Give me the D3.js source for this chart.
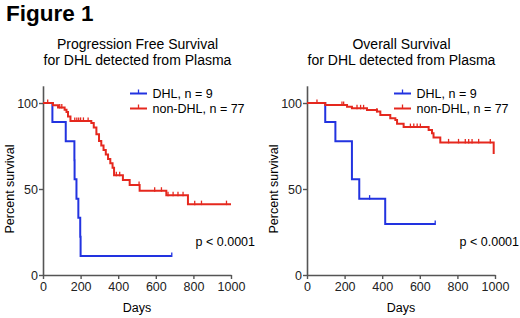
<!DOCTYPE html>
<html>
<head>
<meta charset="utf-8">
<script src="https://cdn.jsdelivr.net/npm/d3@7"></script>
<style>
  body { margin: 0; background: #fff; }
  svg { display: block; font-family: "Liberation Sans", Arial, Helvetica, sans-serif; }
</style>
</head>
<body>
<svg id="chart" width="520" height="318"></svg>
<script>
// Kaplan-Meier step data (days, percent survival)
const pfsDhlDays = [0, 50, 121, 167, 168, 178, 188, 198, 200];
const pfsDhlSurv = [100, 88.9, 77.8, 66.7, 55.6, 44.4, 33.3, 22.2, 11.1];
const pfsDhlCensor = [685];
const pfsDhlEnd = 685;

const pfsNonDays = [0, 53, 80, 115, 125, 133, 146, 257, 270, 284, 298, 310, 322, 334, 346, 358, 370, 378, 425, 461, 514, 656, 771];
const pfsNonSurv = [100, 98.7, 97.4, 96.1, 94.8, 92.2, 89.6, 88.3, 85.7, 81.8, 77.9, 75.3, 72.7, 70.1, 67.5, 64.9, 62.3, 58.0, 55.2, 52.3, 49.0, 46.3, 41.2];
const pfsNonCensor = [25, 89, 100, 169, 180, 190, 200, 215, 240, 390, 408, 511, 594, 630, 665, 692, 718, 745, 807, 843, 976];
const pfsNonEnd = 1000;

const osDhlDays = [0, 97, 151, 239, 278, 416];
const osDhlSurv = [100, 88.9, 77.8, 55.6, 44.4, 29.6];
const osDhlCensor = [333, 682];
const osDhlEnd = 682;

const osNonDays = [0, 97, 213, 239, 319, 372, 390, 443, 470, 479, 514, 647, 665, 673, 709, 993];
const osNonSurv = [100, 98.8, 97.8, 96.9, 95.9, 95.0, 93.0, 91.1, 90.1, 88.0, 86.0, 84.3, 82.4, 80.0, 77.1, 70.3];
const osNonCensor = [53, 186, 195, 266, 285, 301, 372, 550, 568, 586, 603, 753, 806, 842, 860, 878, 913, 975];
const osNonEnd = 993;

const xTicks = [0, 200, 400, 600, 800, 1000];
const yTicks = [0, 50, 100];
const legendLabels = ["DHL, n = 9", "non-DHL, n = 77"];

const blue = "#2233e0", red = "#e5281e", axisColor = "#555";

const svg = d3.select("#chart");

svg.append("text")
  .attr("x", 6).attr("y", 20.5)
  .attr("font-size", 22.5).attr("font-weight", "bold")
  .text("Figure 1");

function survAt(days, surv, t) {
  let s = surv[0];
  days.forEach((d, i) => { if (d <= t) s = surv[i]; });
  return s;
}

function drawPanel(x0, title, series, pText) {
  const x = d3.scaleLinear().domain([0, 1000]).range([x0, x0 + 188]);
  const y = d3.scaleLinear().domain([0, 110]).range([275, 85.8]);
  const g = svg.append("g");

  // titles
  const cx = x0 + 94.5;
  g.append("text").attr("x", cx).attr("y", 48.5).attr("text-anchor", "middle")
    .attr("font-size", 14).text(title);
  g.append("text").attr("x", cx).attr("y", 65).attr("text-anchor", "middle")
    .attr("font-size", 14).text("for DHL detected from Plasma");

  // axes
  const yAxis = g.append("g").attr("transform", `translate(${x0},0)`)
    .call(d3.axisLeft(y).tickValues(yTicks).tickSize(4).tickSizeOuter(0).tickPadding(1));
  const xAxis = g.append("g").attr("transform", `translate(0,${y(0)})`)
    .call(d3.axisBottom(x).tickValues(xTicks).tickFormat(d3.format("d"))
      .tickSize(4).tickSizeOuter(0).tickPadding(3));
  [yAxis, xAxis].forEach((a) => {
    a.select(".domain").attr("stroke", axisColor).attr("stroke-width", 1.6);
    a.selectAll(".tick line").attr("stroke", axisColor).attr("stroke-width", 1.4);
    a.selectAll(".tick text").attr("fill", "#222").attr("font-size", 12.5)
      .attr("font-family", "Liberation Sans, Arial, sans-serif");
  });

  g.append("text").attr("x", (x(0) + x(1000)) / 2).attr("y", 312)
    .attr("text-anchor", "middle").attr("font-size", 12.5).text("Days");
  g.append("text")
    .attr("transform", `translate(${x0 - 29},${y(50)}) rotate(-90)`)
    .attr("text-anchor", "middle").attr("font-size", 12.5).text("Percent survival");

  const line = d3.line().x((d) => x(d[0])).y((d) => y(d[1])).curve(d3.curveStepAfter);

  series.forEach((s, k) => {
    const pts = s.days.map((d, i) => [d, s.surv[i]]);
    pts.push([s.end, s.surv[s.surv.length - 1]]);
    g.append("path").attr("d", line(pts)).attr("fill", "none")
      .attr("stroke", s.color).attr("stroke-width", 2);
    g.selectAll(null).data(s.censor).enter().append("line")
      .attr("x1", (d) => x(d)).attr("x2", (d) => x(d))
      .attr("y1", (d) => y(survAt(s.days, s.surv, d)) + 1)
      .attr("y2", (d) => y(survAt(s.days, s.surv, d)) - 3.5)
      .attr("stroke", s.color).attr("stroke-width", 1.3);

    // legend
    const ly = 93.5 + k * 15;
    const lx = x0 + 87;
    g.append("line").attr("x1", lx).attr("x2", lx + 17).attr("y1", ly).attr("y2", ly)
      .attr("stroke", s.color).attr("stroke-width", 2);
    g.append("line").attr("x1", lx + 8.5).attr("x2", lx + 8.5).attr("y1", ly).attr("y2", ly - 4)
      .attr("stroke", s.color).attr("stroke-width", 1.3);
    g.append("text").attr("x", lx + 22.5).attr("y", ly + 4.5)
      .attr("font-size", 12.5).text(legendLabels[k]);
  });

  g.append("text").attr("x", x0 + 212).attr("y", 246)
    .attr("text-anchor", "end").attr("font-size", 12.5).text(pText);
}

drawPanel(43, "Progression Free Survival", [
  { days: pfsDhlDays, surv: pfsDhlSurv, censor: pfsDhlCensor, end: pfsDhlEnd, color: blue },
  { days: pfsNonDays, surv: pfsNonSurv, censor: pfsNonCensor, end: pfsNonEnd, color: red }
], "p < 0.0001");

drawPanel(307, "Overall Survival", [
  { days: osDhlDays, surv: osDhlSurv, censor: osDhlCensor, end: osDhlEnd, color: blue },
  { days: osNonDays, surv: osNonSurv, censor: osNonCensor, end: osNonEnd, color: red }
], "p < 0.0001");
</script>
</body>
</html>
